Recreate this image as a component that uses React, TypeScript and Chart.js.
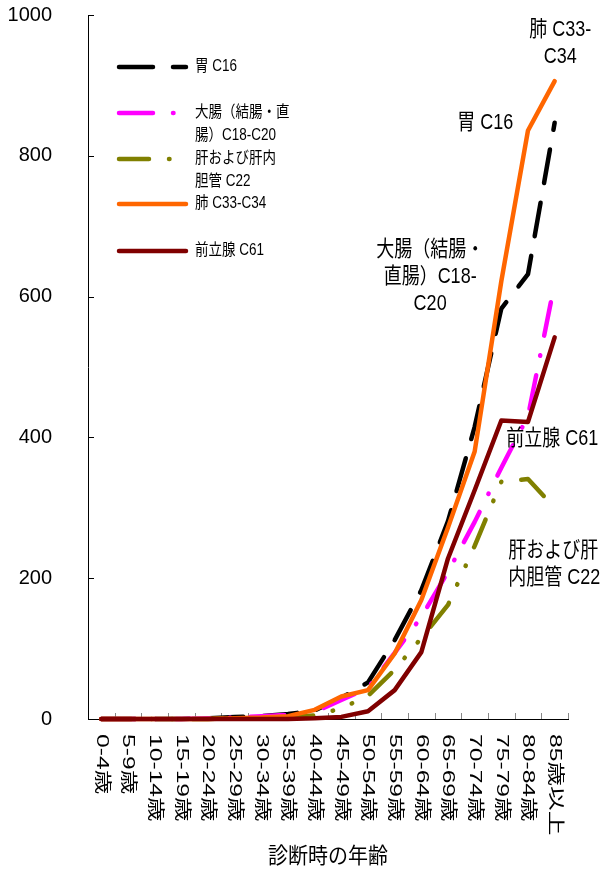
import React, { useEffect, useRef } from "react";
import { Chart, registerables } from "chart.js";

Chart.register(...registerables);

// ---- data ----
const ageLabels = [
  "0-4歳", "5-9歳", "10-14歳", "15-19歳", "20-24歳", "25-29歳",
  "30-34歳", "35-39歳", "40-44歳", "45-49歳", "50-54歳", "55-59歳",
  "60-64歳", "65-69歳", "70-74歳", "75-79歳", "80-84歳", "85歳以上",
];
const stomach = [0, 0, 0, 0, 1, 3, 4, 7, 12, 30, 52, 112, 183, 281, 415, 583, 632, 847];
const colorectum = [0, 0, 0, 0, 1, 2, 4, 6, 10, 27, 44, 94, 145, 209, 280, 357, 430, 619];
const liver = [0, 0, 0, 0, 0, 1, 1, 2, 5, 15, 33, 70, 115, 162, 246, 337, 341, 300];
const lung = [0, 0, 0, 0, 0, 1, 2, 4, 13, 32, 41, 93, 169, 272, 380, 622, 836, 906];
const prostate = [0, 0, 0, 0, 0, 0, 0, 0, 1, 3, 11, 41, 95, 228, 325, 424, 422, 542];
const yTicks = [0, 200, 400, 600, 800, 1000];

const seriesNames = ["胃 C16", "大腸（結腸・直腸）C18-C20", "肝および肝内胆管 C22", "肺 C33-C34", "前立腺 C61"];
const legendLines = [["胃 C16"], ["大腸（結腸・直", "腸）C18-C20"], ["肝および肝内", "胆管 C22"], ["肺 C33-C34"], ["前立腺 C61"]];
const calloutLines = [["肺 C33-", "C34"], ["胃 C16"], ["大腸（結腸・", "直腸）C18-", "C20"], ["前立腺 C61"], ["肝および肝", "内胆管 C22"]];
const calloutIndex = [17.21, 14.4, 12.33, 16.91, 15.26];
const calloutValue = [978, 847, 666, 398, 239];
const calloutAlign = ["center", "center", "center", "center", "left"];
const xTitle = "診断時の年齢";

const FONT = "'Liberation Sans', 'Noto Sans CJK JP', sans-serif";

const colors = ["#000000", "#FF00FF", "#808000", "#FF6600", "#800000"];
const dashes = [[34, 20], [34, 20, 0.5, 20], [30, 20, 0.5, 20, 0.5, 20], [], []];

function stretchedText(ctx: CanvasRenderingContext2D, text: string, x: number, y: number, size: number, sy: number, align: CanvasTextAlign) {
  ctx.save();
  ctx.translate(x, y);
  ctx.scale(1, sy);
  ctx.font = `${size}px ${FONT}`;
  ctx.fillStyle = "#000";
  ctx.textAlign = align;
  ctx.textBaseline = "middle";
  ctx.fillText(text, 0, 0);
  ctx.restore();
}

const customPlugin = {
  id: "custom",
  beforeDatasetsDraw(chart: any) {
    const { ctx, chartArea, scales } = chart;
    const xs = scales.x, ys = scales.y;
    ctx.save();
    ctx.lineWidth = 1;
    ctx.strokeStyle = "#000";
    yTicks.forEach((v) => {
      const py = Math.round(ys.getPixelForValue(v)) + 0.5;
      ctx.beginPath();
      ctx.moveTo(chartArea.left, py);
      ctx.lineTo(chartArea.left + 6, py);
      ctx.stroke();
    });
    ctx.strokeStyle = "#888";
    for (let i = 1; i <= ageLabels.length; i++) {
      const px = Math.round(xs.getPixelForValue(i - 0.5)) + 0.5;
      ctx.beginPath();
      ctx.moveTo(px, chartArea.bottom);
      ctx.lineTo(px, chartArea.bottom - 6);
      ctx.stroke();
    }
    ctx.restore();
  },
  afterDraw(chart: any) {
    const { ctx, chartArea, scales } = chart;
    const xs = scales.x, ys = scales.y;
    // x tick labels, rotated clockwise
    ageLabels.forEach((lab, i) => {
      const px = xs.getPixelForValue(i);
      ctx.save();
      ctx.translate(px, chartArea.bottom + 15);
      ctx.rotate(Math.PI / 2);
      ctx.scale(1.45, 1);
      ctx.font = `17px ${FONT}`;
      ctx.fillStyle = "#000";
      ctx.textAlign = "left";
      ctx.textBaseline = "middle";
      ctx.fillText(lab, 0, 0);
      ctx.restore();
    });
    // x axis title
    stretchedText(ctx, xTitle, (chartArea.left + chartArea.right) / 2, chartArea.bottom + 138, 20, 1.1, "center");
    // legend
    const lx0 = chartArea.left + 29;
    const lx1 = chartArea.left + 100;
    const ly = [52, 98, 144, 189, 236];
    chart.data.datasets.forEach((ds: any, k: number) => {
      const y = chartArea.top + ly[k];
      ctx.save();
      ctx.strokeStyle = ds.borderColor;
      ctx.lineWidth = 4.5;
      ctx.lineCap = "round";
      ctx.setLineDash(ds.borderDash || []);
      ctx.beginPath();
      ctx.moveTo(lx0 + 2, y);
      ctx.lineTo(lx1 - 2, y);
      ctx.stroke();
      ctx.restore();
      legendLines[k].forEach((t, j) => {
        stretchedText(ctx, t, lx1 + 7, y + j * 22.5, 13.5, 1.2, "left");
      });
    });
    // callouts
    calloutLines.forEach((lines, k) => {
      const px = xs.getPixelForValue(calloutIndex[k]);
      const py = ys.getPixelForValue(calloutValue[k]);
      lines.forEach((t, j) => {
        stretchedText(ctx, t, px, py + j * 27, 18, 1.2, calloutAlign[k] as CanvasTextAlign);
      });
    });
  },
};

export default function App() {
  const ref = useRef<HTMLCanvasElement>(null);
  useEffect(() => {
    if (!ref.current) return;
    const all = [stomach, colorectum, liver, lung, prostate];
    const orders = [4, 3, 2, 1, 0];
    const chart = new Chart(ref.current, {
      type: "line",
      data: {
        labels: ageLabels,
        datasets: all.map((d, k) => ({
          label: seriesNames[k],
          data: d,
          borderColor: colors[k],
          backgroundColor: colors[k],
          borderWidth: 4.5,
          borderDash: dashes[k],
          borderCapStyle: "round",
          borderJoinStyle: "round",
          pointRadius: 0,
          pointHoverRadius: 0,
          fill: false,
          tension: 0,
          clip: false,
          order: orders[k],
        })) as any,
      },
      options: {
        responsive: false,
        maintainAspectRatio: false,
        animation: false,
        devicePixelRatio: 1,
        events: [],
        layout: { padding: { top: 15, right: 44, left: 0, bottom: 153 } },
        plugins: {
          legend: { display: false },
          tooltip: { enabled: false },
          title: { display: false },
        },
        scales: {
          x: {
            type: "category",
            offset: true,
            grid: { display: true, drawOnChartArea: false, drawTicks: false },
            border: { display: true, color: "#000", width: 1 },
            ticks: { display: false },
          },
          y: {
            min: 0,
            max: 1000,
            grid: { display: true, drawOnChartArea: false, drawTicks: true, tickLength: 36, tickColor: "rgba(0,0,0,0)" },
            border: { display: true, color: "#000", width: 1 },
            ticks: {
              stepSize: 200,
              padding: 0,
              color: "#000",
              font: { family: "'Liberation Sans', sans-serif", size: 20 },
              callback: (v: any) => String(v),
            },
            afterFit: (s: any) => { s.width = 88; },
          },
        },
      } as any,
      plugins: [customPlugin],
    });
    return () => chart.destroy();
  }, []);
  return (
    <div style={{ position: "absolute", left: 0, top: 0, width: 612, height: 872, background: "#fff" }}>
      <canvas ref={ref} width={612} height={872} style={{ display: "block", width: 612, height: 872 }} />
    </div>
  );
}
